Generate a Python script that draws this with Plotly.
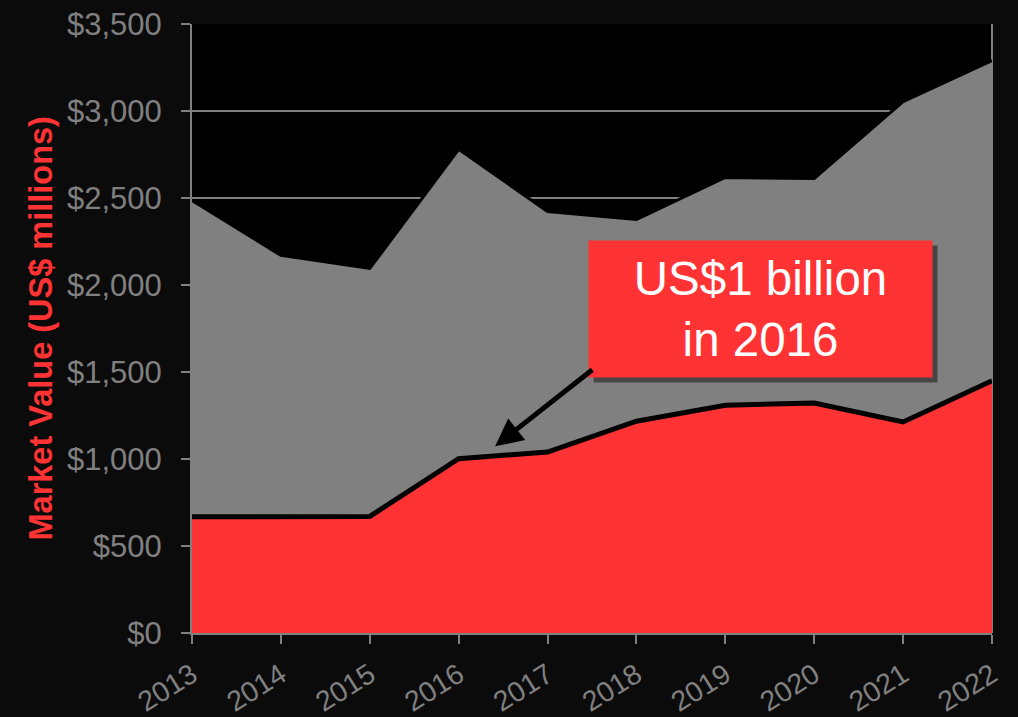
import plotly.graph_objects as go

years = [2013, 2014, 2015, 2016, 2017, 2018, 2019, 2020, 2021, 2022]
total_market = [2485, 2170, 2095, 2780, 2422, 2376, 2618, 2612, 3054, 3290]
segment_value = [668, 670, 670, 1002, 1040, 1217, 1309, 1322, 1213, 1450]
y_ticks = [0, 500, 1000, 1500, 2000, 2500, 3000, 3500]
y_tick_labels = ["$" + format(v, ",") for v in y_ticks]
y_title = "Market Value (US$ millions)"
callout = "US$1 billion<br>in 2016"

RED = "#FF3333"
GRAY = "#808080"

fig = go.Figure()
fig.add_trace(go.Scatter(
    x=years, y=total_market, mode="lines", fill="tozeroy",
    fillcolor=GRAY, line=dict(color="#000000", width=3),
    hoverinfo="skip", showlegend=False))
fig.add_trace(go.Scatter(
    x=years, y=segment_value, mode="lines", fill="tozeroy",
    fillcolor=RED, line=dict(color="#000000", width=5),
    hoverinfo="skip", showlegend=False))

font_family = "Liberation Sans, Arial, sans-serif"

fig.update_layout(
    width=1018, height=717,
    margin=dict(l=192, r=26, t=24, b=84),
    paper_bgcolor="#0b0b0b", plot_bgcolor="#000000",
    font=dict(family=font_family, color=GRAY),
    xaxis=dict(
        range=[years[0], years[-1]], tickmode="array", tickvals=years,
        ticktext=[str(y) for y in years], tickangle=-32,
        tickfont=dict(size=28.5, color=GRAY), showgrid=False,
        showline=True, linecolor=GRAY, linewidth=2,
        ticks="outside", ticklen=9, tickwidth=2, tickcolor=GRAY,
        ticklabelstandoff=3,
        zeroline=False, fixedrange=True, automargin=False),
    yaxis=dict(
        range=[0, 3500], tickmode="array", tickvals=y_ticks,
        ticktext=y_tick_labels,
        tickfont=dict(size=31, color=GRAY),
        showgrid=True, gridcolor=GRAY, gridwidth=1.5,
        showline=True, linecolor=GRAY, linewidth=2,
        ticks="outside", ticklen=9, tickwidth=2, tickcolor=GRAY,
        ticklabelstandoff=13, zeroline=False, fixedrange=True,
        automargin=False),
    shapes=[
        dict(type="line", xref="paper", yref="paper", x0=1, x1=1, y0=0, y1=1,
             line=dict(color=GRAY, width=2), layer="below"),
    ],
    annotations=[
        dict(text="<b>" + y_title + "</b>", xref="paper", yref="paper",
             x=-0.19, y=0.5, xanchor="center", yanchor="middle",
             textangle=-90, showarrow=False,
             font=dict(size=32.5, color=RED, family=font_family)),
        # shadow of callout
        dict(text="", xref="x", yref="y", x=2019.40, y=1860,
             width=343, height=136, borderpad=0,
             bgcolor="rgba(0,0,0,0.45)", showarrow=False,
             xshift=5, yshift=-5),
        dict(text=callout, xref="x", yref="y", x=2019.40, y=1860,
             width=343, height=136, borderpad=0, bgcolor=RED,
             showarrow=False, align="center",
             font=dict(size=47.5, color="#FFFFFF", family=font_family)),
        dict(text="", xref="x", yref="y", axref="x", ayref="y",
             x=2016.41, y=1073, ax=2017.52, ay=1520,
             showarrow=True, arrowhead=2, arrowsize=1.1, arrowwidth=5,
             arrowcolor="#000000", standoff=0),
    ],
)

fig.write_html(
    "out.html",
    config={"displayModeBar": False},
    post_script="document.body.style.margin='0';document.body.style.background='#0b0b0b';document.body.style.overflow='hidden';",
)
